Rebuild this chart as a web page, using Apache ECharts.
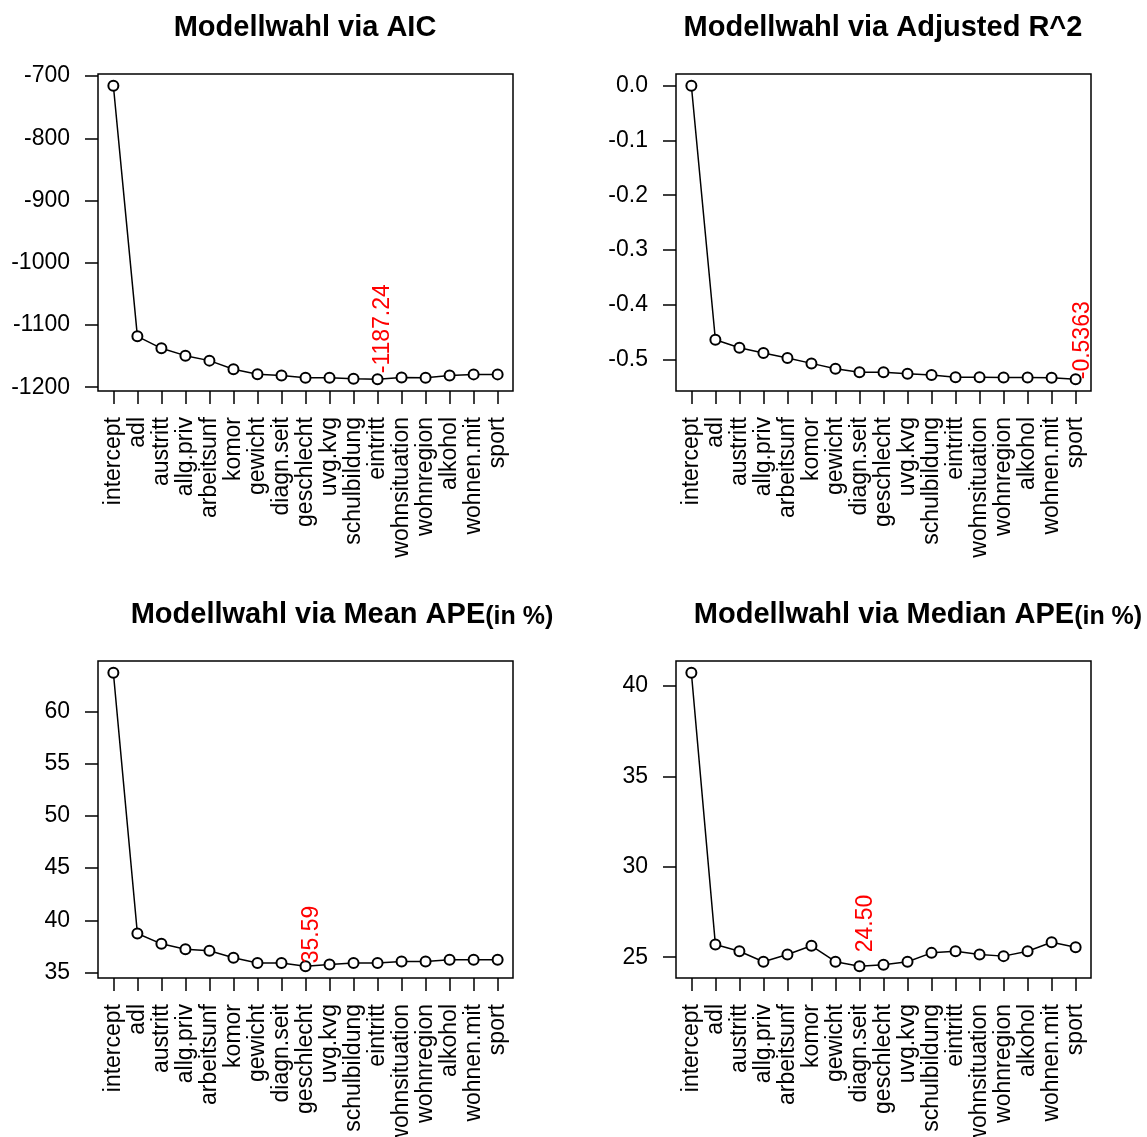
<!DOCTYPE html>
<html>
<head>
<meta charset="utf-8">
<script src="https://cdn.jsdelivr.net/npm/echarts@6/dist/echarts.min.js"></script>
<style>
  html, body { margin: 0; padding: 0; background: #fff; }
  #chart { width: 1147px; height: 1137px; }
</style>
</head>
<body>
<div id="chart"></div>
<script>
// Predictors in the order they enter the forward selection
const categories = ['intercept', 'adl', 'austritt', 'allg.priv', 'arbeitsunf', 'komor', 'gewicht',
  'diagn.seit', 'geschlecht', 'uvg.kvg', 'schulbildung', 'eintritt', 'wohnsituation',
  'wohnregion', 'alkohol', 'wohnen.mit', 'sport'];

// Criterion value after adding each predictor
const aicValues = [-715.5, -1118.3, -1137.5, -1149.3, -1157.3, -1171.2, -1179.2, -1181.3, -1184.8,
  -1185.0, -1186.6, -1187.24, -1184.6, -1184.8, -1181.3, -1179.4, -1179.4];
const adjR2Values = [0.0, -0.4642, -0.4788, -0.4885, -0.4976, -0.5073, -0.5170, -0.5237, -0.5237,
  -0.5261, -0.5285, -0.5328, -0.5328, -0.5330, -0.5330, -0.5335, -0.5363];
const meanApeValues = [63.73, 38.73, 37.74, 37.23, 37.07, 36.40, 35.90, 35.90, 35.59, 35.76, 35.90,
  35.90, 36.05, 36.05, 36.21, 36.21, 36.21];
const medianApeValues = [40.72, 25.70, 25.33, 24.75, 25.15, 25.63, 24.75, 24.50, 24.58, 24.75,
  25.24, 25.33, 25.15, 25.06, 25.33, 25.83, 25.55];

// Tick labels of the value axes
const aicTicks = [-1200, -1100, -1000, -900, -800, -700];
const adjR2Ticks = [-0.5, -0.4, -0.3, -0.2, -0.1, 0.0];
const meanApeTicks = [35, 40, 45, 50, 55, 60];
const medianApeTicks = [25, 30, 35, 40];

const FONT = '"Liberation Sans", Arial, Helvetica, sans-serif';
const PLOT_W = 415, PLOT_H = 317;
const AXIS_FONT = 23;

const panels = [
  { values: aicValues, ticks: aicTicks, tickDec: 0, labelDec: 2,
    left: 98, top: 74, labelShift: [6, 5] },
  { values: adjR2Values, ticks: adjR2Ticks, tickDec: 1, labelDec: 4,
    left: 676, top: 74, labelShift: [8, -1] },
  { values: meanApeValues, ticks: meanApeTicks, tickDec: 0, labelDec: 2,
    left: 98, top: 661, labelShift: [7, 2] },
  { values: medianApeValues, ticks: medianApeTicks, tickDec: 0, labelDec: 2,
    left: 676, top: 661, labelShift: [7, 13] }
];

// Axis ranges padded by 4% on each side
function padded(lo, hi) {
  const p = (hi - lo) * 0.04;
  return [lo - p, hi + p];
}
const positions = categories.map((c, i) => i + 1);
const xRange = padded(1, categories.length);

const grids = [], xAxes = [], yAxes = [], series = [];
panels.forEach((p, i) => {
  const lo = Math.min(...p.values), hi = Math.max(...p.values);
  const yRange = padded(lo, hi);
  const minIdx = p.values.indexOf(lo);

  grids.push({
    left: p.left, top: p.top, width: PLOT_W, height: PLOT_H,
    outerBoundsMode: 'none', containLabel: false,
    show: true, borderColor: '#000', borderWidth: 1.5, backgroundColor: 'transparent'
  });

  xAxes.push({
    type: 'value', gridIndex: i, position: 'bottom', min: xRange[0], max: xRange[1],
    axisLine: { show: false, onZero: false }, splitLine: { show: false },
    axisTick: { show: true, customValues: positions, length: 13, inside: false,
      lineStyle: { color: '#000', width: 1.5 } },
    axisLabel: { show: true, customValues: positions, rotate: 90, margin: 26,
      fontSize: AXIS_FONT, color: '#000', fontFamily: FONT,
      formatter: v => categories[Math.round(v) - 1] }
  });

  yAxes.push({
    type: 'value', gridIndex: i, position: 'left', min: yRange[0], max: yRange[1],
    axisLine: { show: false, onZero: false }, splitLine: { show: false },
    axisTick: { show: true, customValues: p.ticks, length: 13, inside: false,
      lineStyle: { color: '#000', width: 1.5 } },
    axisLabel: { show: true, customValues: p.ticks, margin: 28,
      fontSize: AXIS_FONT, color: '#000', fontFamily: FONT,
      formatter: v => Number(v).toFixed(p.tickDec) }
  });

  series.push({
    type: 'line', xAxisIndex: i, yAxisIndex: i,
    symbol: 'emptyCircle', symbolSize: 10,
    lineStyle: { color: '#000', width: 1.5 },
    itemStyle: { color: '#000', borderColor: '#000', borderWidth: 1.5 },
    label: { show: false },
    silent: true, animation: false,
    data: p.values.map((v, k) => {
      if (k !== minIdx) return [k + 1, v];
      return {
        value: [k + 1, v],
        label: {
          show: true, rotate: 90,
          position: [5 + p.labelShift[0], 5 - p.labelShift[1]],
          align: 'left', verticalAlign: 'middle',
          color: '#ff0000', fontSize: AXIS_FONT, fontFamily: FONT,
          formatter: () => v.toFixed(p.labelDec)
        }
      };
    })
  });
});

// Panel titles
const titleRich = {
  m: { fontSize: 29, fontWeight: 'bold', fontFamily: FONT, fill: '#000', color: '#000' },
  s: { fontSize: 25, fontWeight: 'bold', fontFamily: FONT, fill: '#000', color: '#000',
       verticalAlign: 'bottom' }
};
const titles = [
  { text: '{m|Modellwahl via AIC}', x: 305, y: 28 },
  { text: '{m|Modellwahl via Adjusted R^2}', x: 883, y: 28 },
  { text: '{m|Modellwahl via Mean APE}{s|(in %)}', x: 342, y: 615 },
  { text: '{m|Modellwahl via Median APE}{s|(in %)}', x: 918, y: 615 }
];

const chart = echarts.init(document.getElementById('chart'), null, { renderer: 'canvas' });
chart.setOption({
  backgroundColor: '#fff',
  animation: false,
  grid: grids,
  xAxis: xAxes,
  yAxis: yAxes,
  series: series,
  graphic: titles.map(t => ({
    type: 'text', x: t.x, y: t.y, silent: true,
    style: {
      text: t.text, rich: titleRich,
      align: 'center', verticalAlign: 'middle',
      textAlign: 'center', textVerticalAlign: 'middle',
      fill: '#000', font: 'bold 29px ' + FONT
    }
  }))
});
</script>
</body>
</html>
